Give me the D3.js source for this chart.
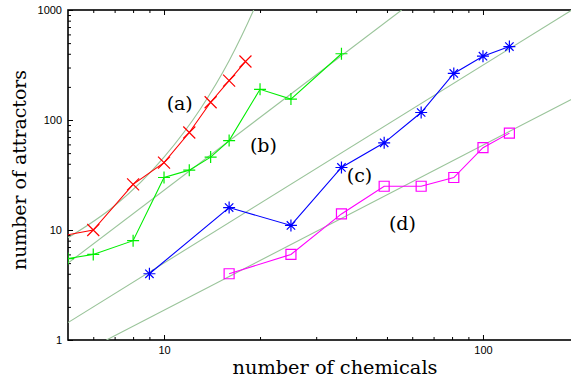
<!DOCTYPE html>
<html>
<head>
<meta charset="utf-8">
<script src="https://cdn.jsdelivr.net/npm/d3@7/dist/d3.min.js"></script>
<style>
  body { margin: 0; background: #fff; }
  .tick text { font-family: "Liberation Sans", Arial, sans-serif; font-size: 11px; fill: #000; }
  .title { font-family: "DejaVu Serif", serif; font-size: 19px; fill: #000; }
  .tag { font-family: "DejaVu Serif", serif; font-size: 19px; fill: #000; }
</style>
</head>
<body>
<svg id="chart" width="571" height="378"></svg>
<script>
// chemicals (x) and attractors (y) for each run
const seriesA_x = [4, 6, 8, 10, 12, 14, 16, 18];
const seriesA_y = [8, 10, 26, 41, 77, 145, 228, 340];
const seriesB_x = [5, 6, 8, 10, 12, 14, 16, 20, 25, 36];
const seriesB_y = [5.5, 6, 8, 30, 35, 46, 65, 190, 155, 400];
const seriesC_x = [9, 16, 25, 36, 49, 64, 81, 100, 121];
const seriesC_y = [4, 16, 11, 37, 62, 117, 265, 380, 465];
const seriesD_x = [16, 25, 36, 49, 64, 81, 100, 121];
const seriesD_y = [4, 6, 14, 25, 25, 30, 56, 76];

// reference curves
const fitA_x = [5, 7, 10, 13, 16, 19.1, 21];
const fitA_y = [8.5, 16.6, 46, 126, 346, 1000, 1900];
const fitB_x = [5, 55.6];
const fitB_y = [5, 1000];
const fitC_x = [5, 190];
const fitC_y = [1.44, 1000];
const fitD_x = [6.6, 200];
const fitD_y = [1, 167];

const xTicks = [10, 100];
const yTicks = [1, 10, 100, 1000];
const tags = ['(a)', '(b)', '(c)', '(d)'];
const tagX = [11.2, 20.5, 41, 55.9];
const tagY = [143, 59, 31.3, 11.6];

const svg = d3.select('#chart');
const m = {left: 68, top: 10, bottom: 340, right: 579};

const x = d3.scaleLog().domain([5, 200]).range([m.left, m.right]);
const y = d3.scaleLog().domain([1, 1000]).range([m.bottom, m.top]);

svg.append('defs').append('clipPath').attr('id', 'plot')
  .append('rect')
  .attr('x', m.left).attr('y', m.top)
  .attr('width', m.right - m.left).attr('height', m.bottom - m.top);

function minors(lo, hi) {
  const out = [];
  for (let d = lo; d < hi; d *= 10) {
    for (let k = 2; k < 10; k++) out.push(d * k);
  }
  return out;
}
const xMinor = minors(1, 1000).filter(v => v > 5 && v < 200);
const yMinor = minors(1, 1000);

// axes: ticks point into the plot
function drawAxis(axisFn, scale, g, major, minor, labels) {
  g.call(axisFn(scale).tickValues(minor).tickSizeInner(-3).tickSizeOuter(0).tickFormat(''));
  const gm = g.append('g');
  gm.call(axisFn(scale).tickValues(major).tickSizeInner(-5).tickSizeOuter(0)
    .tickPadding(6).tickFormat(labels ? d3.format('d') : ''));
  g.selectAll('.domain').remove();
  g.selectAll('line').attr('stroke', '#000').attr('stroke-width', 1);
}

drawAxis(d3.axisBottom, x, svg.append('g').attr('transform', `translate(0,${m.bottom})`), xTicks, xMinor, true);
drawAxis(d3.axisTop, x, svg.append('g').attr('transform', `translate(0,${m.top})`), xTicks, xMinor, false);
drawAxis(d3.axisLeft, y, svg.append('g').attr('transform', `translate(${m.left},0)`), yTicks, yMinor, true);
drawAxis(d3.axisRight, y, svg.append('g').attr('transform', `translate(${m.right},0)`), yTicks, yMinor, false);

svg.append('rect')
  .attr('x', m.left).attr('y', m.top)
  .attr('width', m.right - m.left).attr('height', m.bottom - m.top)
  .attr('fill', 'none').attr('stroke', '#000').attr('stroke-width', 1.6);

const plot = svg.append('g').attr('clip-path', 'url(#plot)');

const zip = (xs, ys) => xs.map((v, i) => [v, ys[i]]);
const line = d3.line().x(d => x(d[0])).y(d => y(d[1]));

// grey-green fits
const fitLine = d3.line().x(d => x(d[0])).y(d => y(d[1])).curve(d3.curveMonotoneX);
[[fitA_x, fitA_y], [fitB_x, fitB_y], [fitC_x, fitC_y], [fitD_x, fitD_y]].forEach(([xs, ys]) => {
  plot.append('path')
    .attr('d', fitLine(zip(xs, ys)))
    .attr('fill', 'none').attr('stroke', '#9ac49a').attr('stroke-width', 1.1);
});

const s = 6;
const markers = {
  cross: `M${-s},${-s}L${s},${s}M${-s},${s}L${s},${-s}`,
  plus: `M${-s},0H${s}M0,${-s}V${s}`,
  star: `M${-s},0H${s}M0,${-s}V${s}M${-s * 0.7},${-s * 0.7}L${s * 0.7},${s * 0.7}M${-s * 0.7},${s * 0.7}L${s * 0.7},${-s * 0.7}`,
  square: `M-5,-5H5V5H-5Z`
};

const series = [
  {xs: seriesA_x, ys: seriesA_y, color: '#ff0000', mark: 'cross'},
  {xs: seriesB_x, ys: seriesB_y, color: '#00ee00', mark: 'plus'},
  {xs: seriesC_x, ys: seriesC_y, color: '#0000ff', mark: 'star'},
  {xs: seriesD_x, ys: seriesD_y, color: '#ff00ff', mark: 'square'}
];

series.forEach(sr => {
  const pts = zip(sr.xs, sr.ys);
  plot.append('path')
    .attr('d', line(pts))
    .attr('fill', 'none').attr('stroke', sr.color).attr('stroke-width', 1.1);
  plot.selectAll(null).data(pts).enter().append('path')
    .attr('transform', d => `translate(${x(d[0])},${y(d[1])})`)
    .attr('d', markers[sr.mark])
    .attr('fill', 'none').attr('stroke', sr.color).attr('stroke-width', 1.2);
});

svg.selectAll('.tag').data(tags).enter().append('text')
  .attr('class', 'tag')
  .attr('x', (d, i) => x(tagX[i])).attr('y', (d, i) => y(tagY[i]))
  .attr('text-anchor', 'middle').attr('dy', '0.35em')
  .text(d => d);

svg.append('text').attr('class', 'title')
  .attr('x', 335).attr('y', 374).attr('text-anchor', 'middle')
  .attr('textLength', 205).attr('lengthAdjust', 'spacingAndGlyphs')
  .text('number of chemicals');

svg.append('text').attr('class', 'title')
  .attr('transform', 'translate(26,170) rotate(-90)').attr('text-anchor', 'middle')
  .attr('textLength', 200).attr('lengthAdjust', 'spacingAndGlyphs')
  .text('number of attractors');
</script>
</body>
</html>
